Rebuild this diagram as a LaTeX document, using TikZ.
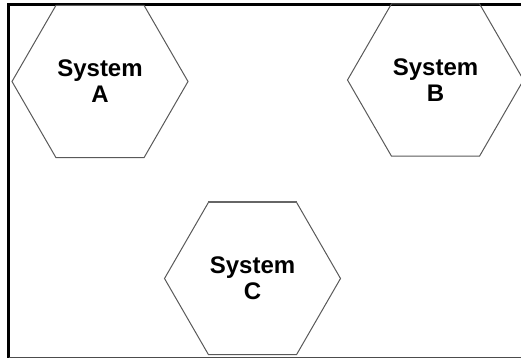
\documentclass[tikz,border=0pt]{standalone}
\usepackage{fontspec}
\setmainfont{Liberation Sans}
\usetikzlibrary{shapes.geometric}

\tikzset{
 sysnode/.style={regular polygon,
 regular polygon sides=6,
 draw=black!65,
 line width=1pt,
 minimum size=176pt,
 inner sep=0pt,
 align=center,
 font=\fontsize{24}{26}\selectfont\bfseries}
}

\begin{document}
\begin{tikzpicture}[x=1pt, y=-1pt]
 \useasboundingbox (0,0) rectangle (521,358);
 % frame
 \draw[line width=2.4pt] (8.5,358) -- (8.5,4.5) -- (521,4.5);
 \draw[black!70, line width=1pt] (8.5,357.5) -- (521,357.5);

 \node[sysnode] (A) at (100,81.5) {System\\A};
 \node[sysnode] (B) at (435.5,80) {System\\B};
 \node[sysnode] (C) at (252.5,278.5) {System\\C};

 \draw[black!60, line width=2pt] (C.corner 1) -- (C.corner 2);
\end{tikzpicture}
\end{document}
